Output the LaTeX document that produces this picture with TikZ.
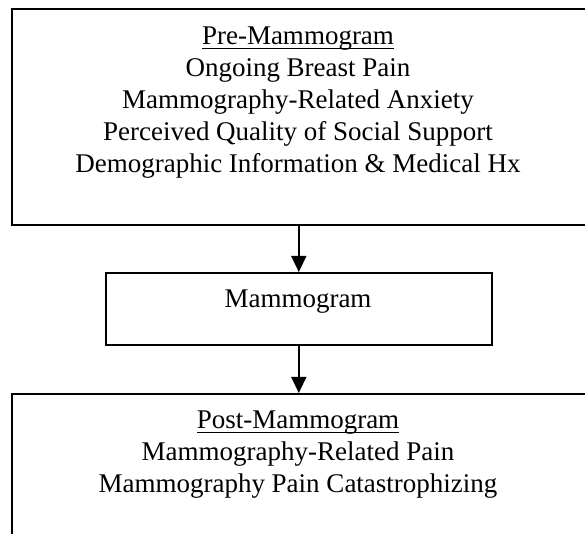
\documentclass[tikz,border=0pt]{standalone}
\usepackage{fontspec}
\setmainfont{Liberation Serif}
\usetikzlibrary{arrows.meta}
% heading underline: a slightly heavier rule set a little below the baseline
\newcommand{\headrule}[1]{\leavevmode\setbox0=\hbox{#1}\rlap{\rule[-2.2pt]{\wd0}{0.7pt}}\box0}
\tikzset{
  panel/.style={draw=black, line width=0.8pt, rectangle, inner sep=0pt},
  label/.style={inner sep=0pt, align=center, font=\fontsize{13.5}{16}\selectfont},
  flow/.style={draw=black, line width=0.8pt, -{Triangle[length=8pt,width=7.5pt]}}
}
\begin{document}
\begin{tikzpicture}[x=1pt,y=1pt]
  \useasboundingbox (0,0) rectangle (292.5,-267);
  % boxes (the outer two run past the right and bottom edges)
  \node[panel, minimum width=288.5pt, minimum height=108pt, anchor=north west] (pre) at (5.5,-4) {};
  \node[panel, minimum width=193pt, minimum height=36pt, anchor=north west] (mammo) at (52.5,-136) {};
  \node[panel, minimum width=288.5pt, minimum height=80pt, anchor=north west] (post) at (5.5,-196.5) {};
  % texts, placed by the baseline of their last line
  \node[label, anchor=base] (pretext) at (149,-86.5) {\headrule{Pre-Mammogram}\\Ongoing Breast Pain\\Mammography-Related Anxiety\\Perceived Quality of Social Support\\Demographic Information \& Medical Hx};
  \node[label, anchor=base] (mammotext) at (149,-154) {Mammogram};
  \node[label, anchor=base] (posttext) at (149,-246.5) {\headrule{Post-Mammogram}\\Mammography-Related Pain\\Mammography Pain Catastrophizing};
  % connectors
  \draw[flow] (pre.south -| mammo.north) -- (mammo.north);
  \draw[flow] (mammo.south) -- (mammo.south |- post.north);
\end{tikzpicture}
\end{document}
